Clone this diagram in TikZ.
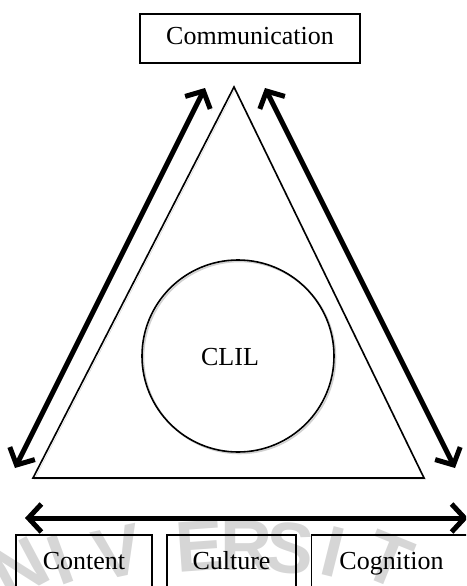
\documentclass[tikz,border=0pt]{standalone}
\usepackage{fontspec}
\setmainfont{Liberation Serif}
\newfontfamily\wmfont{Liberation Sans}
\usetikzlibrary{arrows.meta}

\tikzset{
  labelbox/.style={draw, line width=1.5pt, inner sep=0pt,
    text height=18pt, text depth=6pt,
    font=\fontsize{26}{30}\selectfont},
  softshadow/.style={preaction={draw=black!18,
    transform canvas={shift={(1.5pt,-1.5pt)}}}},
  bigarrow/.style={line width=5pt, softshadow,
    {Straight Barb[length=13pt,width=28pt]}-{Straight Barb[length=13pt,width=28pt]}},
  watermark/.style={text=black!16, inner sep=0pt,
    font=\wmfont\bfseries\fontsize{72}{72}\selectfont}
}

\begin{document}
\begin{tikzpicture}[x=1pt,y=-1pt]
\useasboundingbox (0,0) rectangle (466,586);
\clip (0,0) rectangle (466,586);

% faint seal lettering behind everything
\foreach \ch/\px/\py/\rot [count=\i] in {N/20/568/28, I/60/560/20, V/118/552/12,
    E/200/546/4, R/246/546/0, S/290/548/-6, I/333/552/-14, T/388/560/-22}
  \node[watermark, rotate=\rot] (wm\i) at (\px,\py) {\ch};

\node[labelbox, minimum width=220pt, minimum height=49pt] (comm) at (250,38.5) {Communication};

\coordinate (apex) at (234,87);
\coordinate (left) at (33,478);
\coordinate (right) at (424,478);
\draw[line width=1.6pt, softshadow, line join=miter] (apex) -- (right) -- (left) -- cycle;

\node[draw, circle, line width=1.6pt, softshadow, minimum size=192pt, inner sep=0pt] (ring) at (238,356) {};
\node[font=\fontsize{26}{30}\selectfont] (clil) at (230,357) {CLIL};

% the three double arrows
\coordinate (lt) at (205,88);
\coordinate (lb) at (15,468);
\coordinate (rt) at (265,88);
\coordinate (rb) at (455,468);
\coordinate (bl) at (25,518);
\coordinate (br) at (468,518);
\draw[bigarrow] (lt) -- (lb);
\draw[bigarrow] (rt) -- (rb);
\draw[bigarrow] (bl) -- (br);

\node[labelbox, minimum width=136pt, minimum height=56pt] (content) at (84,563) {Content};
\node[labelbox, minimum width=129pt, minimum height=56pt] (culture) at (231.5,563) {Culture};
\node[labelbox, minimum width=160pt, minimum height=56pt] (cognition) at (391.5,563) {Cognition};
\end{tikzpicture}
\end{document}
